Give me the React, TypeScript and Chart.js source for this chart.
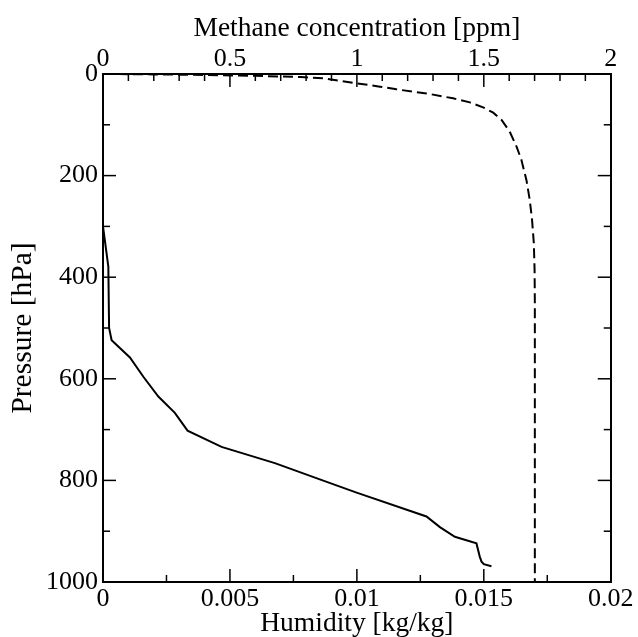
import React, { useEffect, useRef } from "react";
import { Chart, registerables } from "chart.js";

Chart.register(...registerables);

// Humidity profile (solid line, bottom axis)
const humidityValues = [0, 0, 0.00021, 0.00024, 0.00034, 0.00106, 0.00159, 0.00218, 0.00283, 0.00333, 0.00467, 0.00677, 0.00854, 0.00999, 0.01274, 0.01327, 0.01386, 0.01471, 0.01484, 0.01491, 0.0150, 0.0153];
const humidityPressure = [0, 300, 379, 500, 524, 558, 596, 635, 667, 702, 734, 766, 798, 824, 871, 892, 911, 924, 950, 960, 965, 969];

// Methane profile (dashed line, top axis)
const methaneValues = [0, 0.2, 0.4, 0.6, 0.78, 0.87, 1.0, 1.091, 1.156, 1.287, 1.379, 1.445, 1.497, 1.537, 1.57, 1.602, 1.629, 1.648, 1.668, 1.681, 1.69, 1.697, 1.7, 1.701, 1.701];
const methanePressure = [0, 0.8, 1.8, 3.5, 6, 8.5, 18.4, 24.9, 30.2, 39.4, 47.9, 55.8, 65.6, 76.1, 90.6, 113.5, 143, 169, 209, 248, 287, 333, 386, 451, 1000];

// Tick labels
const humidityTicks = [0, 0.005, 0.01, 0.015, 0.02];
const methaneTicks = [0, 0.5, 1, 1.5, 2];
const pressureTicks = [0, 200, 400, 600, 800, 1000];
const humidityMinorPerMajor = 1;
const methaneMinorPerMajor = 4;
const pressureMinorPerMajor = 1;

const FONT = "Liberation Serif";

function minorValues(major: number[], per: number): number[] {
  const out: number[] = [];
  for (let i = 0; i < major.length - 1; i++) {
    const a = major[i];
    const b = major[i + 1];
    for (let k = 1; k <= per; k++) out.push(a + ((b - a) * k) / (per + 1));
  }
  return out;
}

const innerTicksPlugin = {
  id: "innerTicks",
  afterDraw(chart: any) {
    const { ctx, chartArea, scales } = chart;
    const { left, right, top, bottom } = chartArea;
    const MAJOR = 13;
    const MINOR = 7;
    ctx.save();
    ctx.strokeStyle = "#000";
    ctx.lineWidth = 1.5;
    const line = (x1: number, y1: number, x2: number, y2: number) => {
      ctx.beginPath();
      ctx.moveTo(x1, y1);
      ctx.lineTo(x2, y2);
      ctx.stroke();
    };
    const xs = scales.x;
    humidityTicks.forEach((v) => { const p = xs.getPixelForValue(v); line(p, bottom, p, bottom - MAJOR); });
    minorValues(humidityTicks, humidityMinorPerMajor).forEach((v) => { const p = xs.getPixelForValue(v); line(p, bottom, p, bottom - MINOR); });
    const x2 = scales.x2;
    methaneTicks.forEach((v) => { const p = x2.getPixelForValue(v); line(p, top, p, top + MAJOR); });
    minorValues(methaneTicks, methaneMinorPerMajor).forEach((v) => { const p = x2.getPixelForValue(v); line(p, top, p, top + MINOR); });
    const ys = scales.y;
    pressureTicks.forEach((v) => {
      const p = ys.getPixelForValue(v);
      line(left, p, left + MAJOR, p);
      line(right, p, right - MAJOR, p);
    });
    minorValues(pressureTicks, pressureMinorPerMajor).forEach((v) => {
      const p = ys.getPixelForValue(v);
      line(left, p, left + MINOR, p);
      line(right, p, right - MINOR, p);
    });
    ctx.restore();
  },
};

export default function App() {
  const ref = useRef<HTMLCanvasElement | null>(null);

  useEffect(() => {
    if (!ref.current) return;
    const tickFont = { family: FONT, size: 26, lineHeight: 1 };
    const titleFont = { family: FONT, size: 27.5, lineHeight: 1 };
    const yTitleFont = { family: FONT, size: 29.5, lineHeight: 1 };
    const border = { display: true, color: "#000", width: 2 };
    const grid = { display: false, drawTicks: false };
    const fmt = (v: any) => String(v);

    const chart = new Chart(ref.current, {
      type: "scatter",
      data: {
        datasets: [
          {
            label: "Humidity",
            data: humidityValues.map((h, i) => ({ x: h, y: humidityPressure[i] })),
            xAxisID: "x",
            yAxisID: "y",
            showLine: true,
            borderColor: "#000",
            borderWidth: 2,
            pointRadius: 0,
            tension: 0,
          },
          {
            label: "Methane",
            data: methaneValues.map((m, i) => ({ x: m, y: methanePressure[i] })),
            xAxisID: "x2",
            yAxisID: "y",
            showLine: true,
            borderColor: "#000",
            borderWidth: 2,
            borderDash: [10, 5],
            pointRadius: 0,
            tension: 0,
          },
        ],
      },
      plugins: [innerTicksPlugin],
      options: {
        responsive: false,
        animation: false,
        devicePixelRatio: 1,
        layout: { padding: 0 },
        plugins: { legend: { display: false }, tooltip: { enabled: false } },
        scales: {
          x: {
            type: "linear",
            position: "bottom",
            min: 0,
            max: 0.02,
            grid,
            border,
            afterBuildTicks: (s: any) => { s.ticks = humidityTicks.map((v) => ({ value: v })); },
            afterFit: (s: any) => { s.height = 55; },
            ticks: { font: tickFont, color: "#000", padding: 4.5, maxRotation: 0, autoSkip: false, callback: fmt },
            title: { display: true, text: "Humidity [kg/kg]", font: titleFont, color: "#000", padding: { top: 0, bottom: -1 } },
          },
          x2: {
            type: "linear",
            position: "top",
            min: 0,
            max: 2,
            grid,
            border,
            afterBuildTicks: (s: any) => { s.ticks = methaneTicks.map((v) => ({ value: v })); },
            afterFit: (s: any) => { s.height = 74; },
            ticks: { font: tickFont, color: "#000", padding: 2, maxRotation: 0, autoSkip: false, callback: fmt },
            title: { display: true, text: "Methane concentration [ppm]", font: titleFont, color: "#000", padding: { top: 15, bottom: 0 } },
          },
          y: {
            type: "linear",
            position: "left",
            reverse: true,
            min: 0,
            max: 1000,
            grid,
            border,
            afterBuildTicks: (s: any) => { s.ticks = pressureTicks.map((v) => ({ value: v })); },
            afterFit: (s: any) => { s.width = 103; },
            ticks: { font: tickFont, color: "#000", padding: 5, autoSkip: false, callback: fmt },
            title: { display: true, text: "Pressure [hPa]", font: yTitleFont, color: "#000", padding: { top: 8.5, bottom: 0 } },
          },
          y2: {
            type: "linear",
            position: "right",
            reverse: true,
            min: 0,
            max: 1000,
            grid,
            border,
            afterFit: (s: any) => { s.width = 27; },
            ticks: { display: false },
          },
        },
      },
    } as any);
    return () => chart.destroy();
  }, []);

  return (
    <div style={{ position: "absolute", left: 0, top: 0, width: 638, height: 637 }}>
      <canvas ref={ref} width={638} height={637} style={{ display: "block", width: 638, height: 637 }} />
    </div>
  );
}
